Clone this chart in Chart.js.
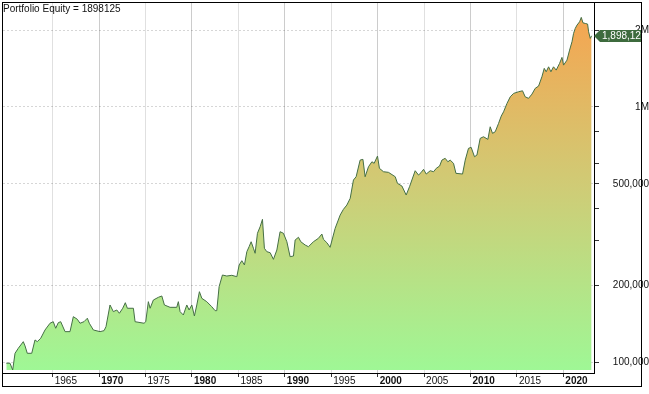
<!DOCTYPE html>
<html>
<head>
<meta charset="utf-8">
<script src="https://cdn.jsdelivr.net/npm/chart.js@4/dist/chart.umd.min.js"></script>
<style>
  html, body { margin: 0; padding: 0; background: #fff; }
  #wrap { width: 649px; height: 394px; }
</style>
</head>
<body>
<div id="wrap"><canvas id="equity-chart" width="649" height="394"></canvas></div>
<script>
// Portfolio equity curve, log scale, 1960 - 2023

var TITLE = 'Portfolio Equity = 1898125';
var LAST_LABEL = '1,898,125';

var YEARS = [
  1960.00, 1960.40, 1960.69, 1960.94, 1961.29, 1961.83, 1962.02, 1962.26, 1962.74, 1963.09,
  1963.34, 1963.71, 1964.17, 1964.71, 1965.06, 1965.32, 1965.60, 1965.86, 1966.33, 1966.86,
  1967.22, 1967.65, 1967.94, 1968.37, 1968.73, 1968.94, 1969.38, 1970.10, 1970.53, 1970.74,
  1971.17, 1971.53, 1971.90, 1972.18, 1972.54, 1972.82, 1973.04, 1973.69, 1973.87, 1974.84,
  1975.02, 1975.30, 1975.49, 1975.84, 1976.38, 1976.75, 1977.03, 1977.64, 1978.36, 1978.53,
  1978.72, 1979.07, 1979.44, 1979.69, 1979.98, 1980.26, 1980.52, 1980.80, 1981.06, 1981.59,
  1982.13, 1982.49, 1982.67, 1982.92, 1983.28, 1983.75, 1984.29, 1984.83, 1985.08, 1985.37,
  1985.65, 1985.91, 1986.15, 1986.37, 1986.62, 1986.80, 1987.05, 1987.34, 1987.59, 1987.80,
  1988.06, 1988.42, 1988.77, 1989.14, 1989.49, 1989.85, 1990.22, 1990.57, 1990.93, 1991.11,
  1991.47, 1991.72, 1992.19, 1992.54, 1993.08, 1993.62, 1993.99, 1994.16, 1994.53, 1994.88,
  1995.42, 1995.96, 1996.31, 1996.68, 1997.04, 1997.39, 1997.68, 1998.11, 1998.41, 1998.65,
  1999.01, 1999.38, 1999.62, 1999.98, 2000.19, 2000.63, 2001.16, 2001.89, 2002.13, 2002.61,
  2003.07, 2003.43, 2004.04, 2004.40, 2004.66, 2004.94, 2005.23, 2005.66, 2006.02, 2006.31,
  2006.67, 2006.92, 2007.27, 2007.56, 2007.81, 2008.17, 2008.43, 2009.14, 2009.43, 2009.78,
  2010.07, 2010.43, 2010.69, 2011.04, 2011.40, 2011.87, 2012.12, 2012.37, 2012.66, 2013.02,
  2013.31, 2013.56, 2013.93, 2014.28, 2014.64, 2015.17, 2015.60, 2015.89, 2016.25, 2016.62,
  2016.97, 2017.33, 2017.69, 2017.94, 2018.15, 2018.41, 2018.66, 2018.94, 2019.23, 2019.59,
  2019.85, 2020.02, 2020.39, 2020.67, 2020.93, 2021.10, 2021.28, 2021.47, 2021.75, 2021.93,
  2022.11, 2022.36, 2022.61, 2022.72, 2022.90, 2023.04
];

var EQUITY = [
  99500, 99500, 93600, 108800, 113800, 120800, 116200, 108800, 108800, 122700,
  120800, 124600, 134200, 142600, 144600, 136300, 143300, 144600, 132200, 132200,
  151300, 147800, 142600, 144600, 149200, 142600, 134200, 132200, 133400, 138300,
  168100, 158300, 160700, 156000, 163200, 171600, 163200, 163200, 144600, 142600,
  144600, 173200, 163200, 175800, 180100, 182300, 168100, 164600, 164600, 173200,
  158300, 153600, 168100, 160700, 168100, 152200, 168100, 189500, 178500, 173200,
  165500, 159700, 159700, 198200, 220200, 218200, 219600, 216900, 241000, 250500,
  241000, 271700, 284100, 297100, 280100, 267800, 320600, 340100, 363600, 280100,
  271700, 269200, 253600, 275800, 325200, 320600, 297100, 259700, 261300, 301800,
  309300, 297100, 288500, 284100, 297100, 306500, 318500, 303700, 294500, 282600,
  335300, 377900, 397800, 413500, 439200, 518000, 533600, 619900, 624000, 533600,
  583800, 610600, 602000, 642800, 575500, 558200, 555100, 533600, 502800, 490700,
  452500, 487700, 563300, 541800, 553200, 570300, 546700, 563300, 558200, 575500,
  587600, 619900, 629800, 610600, 619900, 602000, 550200, 546700, 619900, 689000,
  695200, 638800, 648600, 753900, 764800, 747100, 836800, 788500, 800000, 862700,
  921400, 957800, 1033000, 1096000, 1130000, 1147000, 1157000, 1096000, 1081000, 1123000,
  1183000, 1207000, 1313000, 1416000, 1373000, 1436000, 1373000, 1436000, 1394000, 1481000,
  1563000, 1458000, 1525000, 1669000, 1799000, 1940000, 2029000, 2091000, 2154000, 2241000,
  2134000, 2122000, 2110000, 1968000, 1854000, 1898125
];

var X_TICKS = [1965, 1970, 1975, 1980, 1985, 1990, 1995, 2000, 2005, 2010, 2015, 2020];
var Y_TICKS = [100000, 200000, 300000, 400000, 500000, 600000, 800000, 1000000, 2000000];
var Y_LABELS = { 100000: '100,000', 200000: '200,000', 500000: '500,000', 1000000: '1M', 2000000: '2M' };

var FONT = '"Liberation Sans", Arial, sans-serif';

function equityFill(ctx) {
  var area = ctx.chart.chartArea;
  if (!area) return 'rgba(0,0,0,0)';
  var g = ctx.chart.ctx.createLinearGradient(0, area.top, 0, area.bottom);
  g.addColorStop(0, '#f8a24e');
  g.addColorStop(0.5, '#cfcc76');
  g.addColorStop(1, '#9ef896');
  return g;
}

// title, outer frame and the last-value tag on the right axis
var overlayPlugin = {
  id: 'overlay',
  afterDraw: function(chart) {
    var c = chart.ctx;
    c.save();
    c.strokeStyle = '#000';
    c.lineWidth = 1;
    c.strokeRect(2.5, 2.5, 639, 384);

    c.fillStyle = '#111';
    c.font = '10px ' + FONT;
    c.textAlign = 'left';
    c.textBaseline = 'alphabetic';
    c.fillText(TITLE, 3, 12);

    var y = Math.round(chart.scales.y.getPixelForValue(EQUITY[EQUITY.length - 1]));
    var x0 = chart.chartArea.right;
    c.beginPath();
    c.rect(0, 0, 641, 394);
    c.clip();
    c.fillStyle = '#3d6b3d';
    c.beginPath();
    c.moveTo(x0, y);
    c.lineTo(x0 + 6, y - 6);
    c.lineTo(648, y - 6);
    c.lineTo(648, y + 6);
    c.lineTo(x0 + 6, y + 6);
    c.closePath();
    c.fill();
    c.fillStyle = '#fff';
    c.textBaseline = 'middle';
    c.fillText(LAST_LABEL, x0 + 8, y + 0.5);
    c.restore();
  }
};

var canvas = document.getElementById('equity-chart');

new Chart(canvas, {
  type: 'line',
  data: {
    datasets: [{
      data: YEARS.map(function(yr, i) { return { x: yr, y: EQUITY[i] }; }),
      borderColor: '#456f45',
      borderWidth: 1,
      backgroundColor: equityFill,
      fill: { value: 93500 },
      pointRadius: 0,
      tension: 0
    }]
  },
  options: {
    responsive: false,
    devicePixelRatio: 1,
    animation: false,
    events: [],
    layout: { padding: { left: 3, top: 3, right: 0, bottom: 0 } },
    plugins: {
      legend: { display: false },
      tooltip: { enabled: false }
    },
    scales: {
      x: {
        type: 'linear',
        position: 'bottom',
        min: 1959.645,
        max: 2023.30,
        z: 1,
        afterFit: function(scale) {
          scale.height = 21;
          scale.paddingLeft = 0;
          scale.paddingRight = 0;
        },
        afterBuildTicks: function(scale) {
          scale.ticks = X_TICKS.map(function(v) { return { value: v }; });
        },
        grid: {
          color: function(ctx) {
            return ctx.tick && ctx.tick.value % 10 === 0 ? 'rgba(0,0,0,0.2)' : 'rgba(0,0,0,0.12)';
          },
          tickColor: '#333',
          tickLength: 4
        },
        border: { color: '#000' },
        ticks: {
          autoSkip: false,
          maxRotation: 0,
          align: 'start',
          labelOffset: 2,
          padding: -1,
          color: '#111',
          font: function(ctx) {
            var bold = ctx.tick && ctx.tick.value % 10 === 0;
            return { family: FONT, size: 10, weight: bold ? 'bold' : 'normal', lineHeight: 1 };
          },
          callback: function(v) { return String(v); }
        }
      },
      y: {
        type: 'logarithmic',
        position: 'right',
        min: 91100,
        max: 2551000,
        z: 1,
        afterFit: function(scale) {
          scale.width = 55;
          scale.paddingTop = 0;
          scale.paddingBottom = 0;
        },
        afterBuildTicks: function(scale) {
          scale.ticks = Y_TICKS.map(function(v) { return { value: v }; });
        },
        grid: {
          color: function(ctx) {
            return ctx.tick && Y_LABELS[ctx.tick.value] ? 'rgba(0,0,0,0.16)' : 'rgba(0,0,0,0)';
          },
          tickColor: '#333',
          tickLength: 5
        },
        border: { color: '#000', dash: [2, 2] },
        ticks: {
          autoSkip: false,
          crossAlign: 'far',
          padding: 5,
          color: '#111',
          font: { family: FONT, size: 10 },
          callback: function(v) { return Y_LABELS[v] || ''; }
        }
      }
    }
  },
  plugins: [overlayPlugin]
});
</script>
</body>
</html>
